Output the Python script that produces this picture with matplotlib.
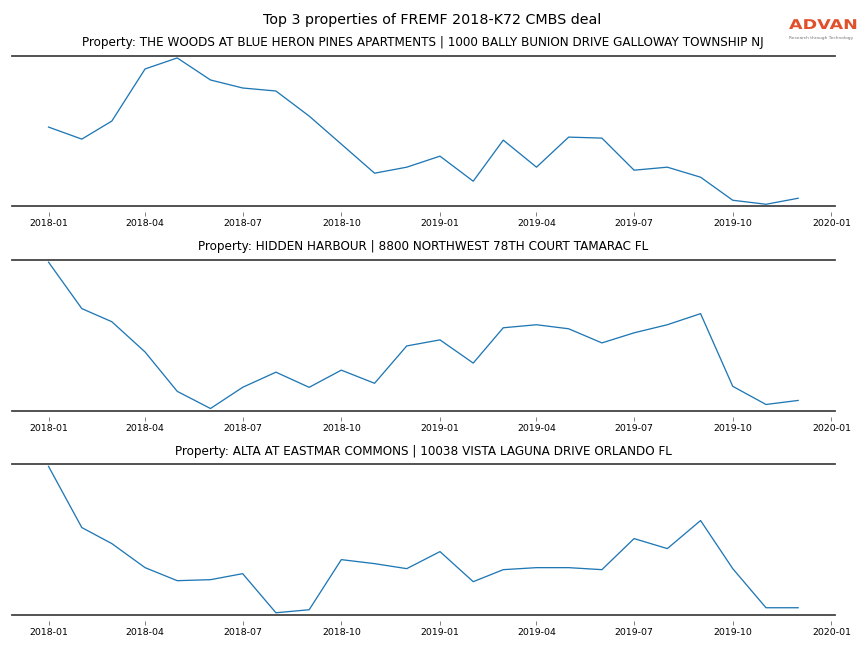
import matplotlib
matplotlib.use("Agg")
import matplotlib.pyplot as plt
import matplotlib.dates as mdates
from matplotlib.textpath import TextPath
from matplotlib.patches import PathPatch
from matplotlib.font_manager import FontProperties
from matplotlib.transforms import Affine2D, IdentityTransform
import pandas as pd

months = pd.date_range("2018-01-01", "2019-12-01", freq="MS")

titles = [
    "Property: THE WOODS AT BLUE HERON PINES APARTMENTS | 1000 BALLY BUNION DRIVE GALLOWAY TOWNSHIP NJ",
    "Property: HIDDEN HARBOUR | 8800 NORTHWEST 78TH COURT TAMARAC FL",
    "Property: ALTA AT EASTMAR COMMONS | 10038 VISTA LAGUNA DRIVE ORLANDO FL",
]

# visits per month (arbitrary units)
woods = [78, 66, 84, 136, 147, 125, 117, 114, 89, 61, 32, 38,
         49, 24, 65, 38, 68, 67, 35, 38, 28, 5, 1, 7]
harbour = [147, 101, 88, 58, 19, 2, 23, 38, 23, 40, 27, 64,
           70, 47, 82, 85, 81, 67, 77, 85, 96, 24, 6, 10]
alta = [148, 87, 71, 47, 34, 35, 41, 2, 5, 55, 51, 46,
        63, 33, 45, 47, 47, 45, 76, 66, 94, 46, 7, 7]

series = [woods, harbour, alta]

fig, axes = plt.subplots(3, 1, figsize=(12, 9), dpi=72)
fig.subplots_adjust(left=0.014, right=0.966, top=0.914, bottom=0.051, hspace=0.355)
fig.suptitle("Top 3 properties of FREMF 2018-K72 CMBS deal", fontsize=14.3, y=0.98)

for ax, vals, title in zip(axes, series, titles):
    ax.plot(months, vals, color="tab:blue", lw=1.3)
    ax.set_title(title, fontsize=12, pad=9.5)
    ax.margins(y=0.015)
    ax.set_xlim(pd.Timestamp("2017-11-28"), pd.Timestamp("2020-01-04"))
    ax.set_yticks([])
    for s in ["left", "right", "bottom"]:
        ax.spines[s].set_visible(False)
    ax.spines["top"].set_color("#444444")
    ax.spines["top"].set_linewidth(1.8)
    # dark baseline at the bottom, x axis ticks pushed a bit below it
    ax.plot([0, 1], [0, 0], transform=ax.transAxes, color="#444444", lw=1.8,
            clip_on=False)
    ax.spines["bottom"].set_position(("outward", 6))
    ax.xaxis.set_major_locator(mdates.MonthLocator(bymonth=[1, 4, 7, 10]))
    ax.xaxis.set_major_formatter(mdates.DateFormatter("%Y-%m"))
    ax.tick_params(axis="x", labelsize=9.4, length=4, color="#666666", pad=3)

# logo (wide lettering -> stretched text path, in pixels)
logo = TextPath((0, 0), "ADVAN", size=13.5, prop=FontProperties(family="DejaVu Sans", weight="bold"))
tr = Affine2D().scale(1.3, 1.0).translate(789, 648 - 29)
fig.add_artist(PathPatch(logo, transform=tr + IdentityTransform(), color="#e0502a", lw=0))
fig.text(789 / 864, 1 - 40 / 648, "Research through Technology", color="#777777",
         fontsize=4.4, ha="left", va="bottom")

plt.savefig("out.png", dpi=72)
